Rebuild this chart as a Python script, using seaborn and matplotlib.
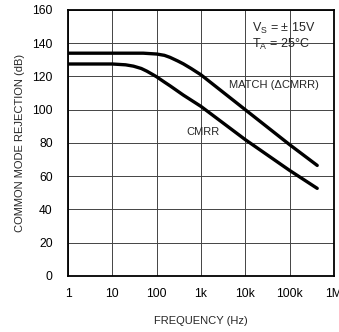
import numpy as np
import pandas as pd
import matplotlib
matplotlib.use("Agg")
import matplotlib.pyplot as plt
import seaborn as sns

match_freq = [1, 10, 50, 100, 150, 200, 300, 400, 600, 1000, 10000, 100000, 420000]
match_db = [134, 134, 134, 133.5, 132.7, 131.5, 129.3, 127.6, 124.8, 121, 100, 79, 66.5]
cmrr_freq = [1, 10, 20, 30, 45, 60, 80, 100, 150, 200, 400, 1000, 10000, 100000, 420000]
cmrr_db = [127.5, 127.5, 127, 126.2, 124.8, 123.2, 121.3, 119.8, 116.6, 114.4, 108.8, 102, 82, 63.5, 52.7]
x_ticks = [1, 10, 100, 1e3, 1e4, 1e5, 1e6]
x_labels = ["1", "10", "100", "1k", "10k", "100k", "1M"]
y_ticks = [0, 20, 40, 60, 80, 100, 120, 140, 160]

sns.set_style("white")
fam = ["Liberation Sans Narrow", "Liberation Sans", "DejaVu Sans"]
plt.rcParams["font.family"] = fam
plt.rcParams["mathtext.fontset"] = "custom"
plt.rcParams["mathtext.rm"] = "Liberation Sans"
plt.rcParams["mathtext.it"] = "Liberation Sans"

df = pd.concat([
    pd.DataFrame({"freq": match_freq, "db": match_db, "curve": "MATCH"}),
    pd.DataFrame({"freq": cmrr_freq, "db": cmrr_db, "curve": "CMRR"}),
])

fig = plt.figure(figsize=(3.39, 3.32), dpi=100)
ax = fig.add_axes([0.2006, 0.1687, 0.7844, 0.8013])
sns.lineplot(data=df, x="freq", y="db", units="curve", estimator=None,
             color="black", linewidth=2.4, ax=ax, legend=False, sort=False)
for ln in ax.lines:
    ln.set_solid_capstyle("round")
    ln.set_solid_joinstyle("round")
ax.set_xscale("log")
ax.set_xlim(1, 1e6)
ax.set_ylim(0, 160)
ax.set_xticks(x_ticks)
ax.set_xticklabels(x_labels)
ax.minorticks_off()
ax.set_yticks(y_ticks)
ax.grid(True, color="#444444", linewidth=0.7)
for s in ax.spines.values():
    s.set_color("black")
    s.set_linewidth(1.3)
ax.tick_params(axis="both", length=0, labelsize=8.7, colors="black")
ax.tick_params(axis="x", pad=9)
ax.tick_params(axis="y", pad=11)
for lbl in ax.get_xticklabels():
    lbl.set_clip_on(False)
ax.set_xlabel("FREQUENCY (Hz)", fontsize=8, labelpad=11)
ax.set_ylabel("COMMON MODE REJECTION (dB)", fontsize=8, labelpad=5)

ax.text(1.4e4, 149, r"V$_S$ = $\pm$ 15V", fontsize=9, ha="left", va="center")
ax.text(1.4e4, 139.5, r"T$_A$ = 25°C", fontsize=9, ha="left", va="center")
ax.text(4.3e3, 115, "MATCH (\u0394CMRR)", fontsize=8, ha="left", va="center")
ax.text(480, 86.6, "CMRR", fontsize=8, ha="left", va="center")

fig.savefig("out.png", dpi=100)
